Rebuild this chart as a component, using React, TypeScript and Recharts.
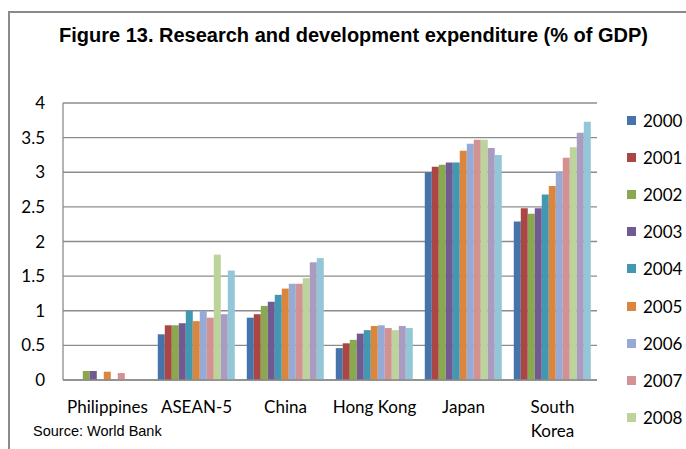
import React from "react";
import {
  BarChart,
  Bar,
  XAxis,
  YAxis,
  CartesianGrid,
  Legend,
} from "recharts";

const categories = ["Philippines", "ASEAN-5", "China", "Hong Kong", "Japan", "South Korea"];
const years = ["2000", "2001", "2002", "2003", "2004", "2005", "2006", "2007", "2008", "2009", "2010"];
const colors = [
  "#4673aa", "#aa4644", "#8aa84f", "#715a92", "#4198b0", "#dc853c",
  "#95aad5", "#d49191", "#bcd39b", "#a99cc0", "#93c7d7",
];

// values per country, 2000..2010 (null = no data)
const philippines = [null, null, 0.13, 0.13, null, 0.12, null, 0.1, null, null, null];
const asean5 = [0.66, 0.79, 0.79, 0.82, 1.0, 0.85, 1.0, 0.9, 1.81, 0.95, 1.58];
const china = [0.9, 0.95, 1.07, 1.13, 1.23, 1.32, 1.39, 1.39, 1.47, 1.7, 1.76];
const hongKong = [0.46, 0.53, 0.58, 0.67, 0.72, 0.78, 0.79, 0.75, 0.72, 0.78, 0.75];
const japan = [3.0, 3.08, 3.11, 3.14, 3.14, 3.31, 3.41, 3.47, 3.47, 3.35, 3.25];
const southKorea = [2.29, 2.48, 2.4, 2.48, 2.68, 2.8, 3.01, 3.21, 3.36, 3.57, 3.73];

const yTicks = [0, 0.5, 1, 1.5, 2, 2.5, 3, 3.5, 4];

const rows = [philippines, asean5, china, hongKong, japan, southKorea].map((vals, i) => {
  const row: Record<string, any> = { name: categories[i] };
  years.forEach((y, j) => (row[y] = vals[j]));
  return row;
});

const calibri = "Lato, 'Open Sans', sans-serif";
const arial = "'Liberation Sans', Arial, sans-serif";

// long two-word names wrap onto two lines like in Excel
const CategoryTick = (props: any) => {
  const { x, y, payload } = props;
  const value: string = payload.value;
  const lines = value.length > 10 && value.includes(" ") ? value.split(" ") : [value];
  return (
    <text x={x} y={y + 12} textAnchor="middle" fontSize={17} fontFamily={calibri} fill="#000">
      {lines.map((l, i) => (
        <tspan key={l} x={x} dy={i === 0 ? 0 : 24}>
          {l}
        </tspan>
      ))}
    </text>
  );
};

// the frame cuts the legend after 2008, as in the source figure
const renderLegend = (props: any) => {
  const { payload } = props;
  return (
    <div>
      {payload.slice(0, 9).map((p: any) => (
        <div
          key={p.value}
          style={{ height: 37.2, display: "flex", alignItems: "center", fontFamily: calibri, fontSize: 17, color: "#000" }}
        >
          <span style={{ width: 9, height: 9, background: p.color, marginRight: 7, display: "inline-block" }} />
          {p.value}
        </div>
      ))}
    </div>
  );
};

export default function App() {
  return (
    <div
      style={{
        position: "absolute",
        left: 0,
        top: 0,
        width: 686,
        height: 449,
        overflow: "hidden",
        background: "#fff",
      }}
    >
      <div
        style={{
          position: "absolute",
          left: 8,
          top: 11,
          width: 700,
          height: 460,
          borderLeft: "2px solid #8a8a8a",
          borderTop: "2px solid #8a8a8a",
        }}
      />
      <div
        style={{
          position: "absolute",
          left: 0,
          top: 24,
          width: 707,
          textAlign: "center",
          fontFamily: arial,
          fontWeight: "bold",
          fontSize: 20,
          color: "#000",
        }}
      >
        Figure 13. Research and development expenditure (% of GDP)
      </div>
      <div
        style={{
          position: "absolute",
          left: 33,
          top: 423,
          fontFamily: arial,
          fontSize: 14.5,
          color: "#000",
        }}
      >
        Source: World Bank
      </div>
      <div style={{ position: "absolute", left: 0, top: 0 }}>
        <BarChart
          width={686}
          height={560}
          data={rows}
          margin={{ top: 103, right: 29, bottom: 150, left: 0 }}
          barCategoryGap="6.5%"
          barGap={0}
        >
          <CartesianGrid vertical={false} stroke="#8c8c8c" strokeWidth={1.3} />
          <XAxis
            dataKey="name"
            height={30}
            tick={<CategoryTick />}
            tickLine={false}
            tickSize={0}
            tickMargin={21}
            interval={0}
            axisLine={{ stroke: "#8c8c8c", strokeWidth: 1.3 }}
          />
          <YAxis
            width={63}
            domain={[0, 4]}
            ticks={yTicks}
            tickLine={false}
            tickSize={0}
            tickMargin={18}
            axisLine={{ stroke: "#8c8c8c", strokeWidth: 1.3 }}
            tick={{ fill: "#000", fontSize: 17, fontFamily: calibri }}
          />
          {years.map((y, i) => (
            <Bar key={y} dataKey={y} fill={colors[i]} isAnimationActive={false} />
          ))}
          <Legend
            content={renderLegend}
            layout="vertical"
            align="right"
            verticalAlign="top"
            wrapperStyle={{ left: 627, top: 101.5, width: 60 }}
          />
        </BarChart>
      </div>
    </div>
  );
}
